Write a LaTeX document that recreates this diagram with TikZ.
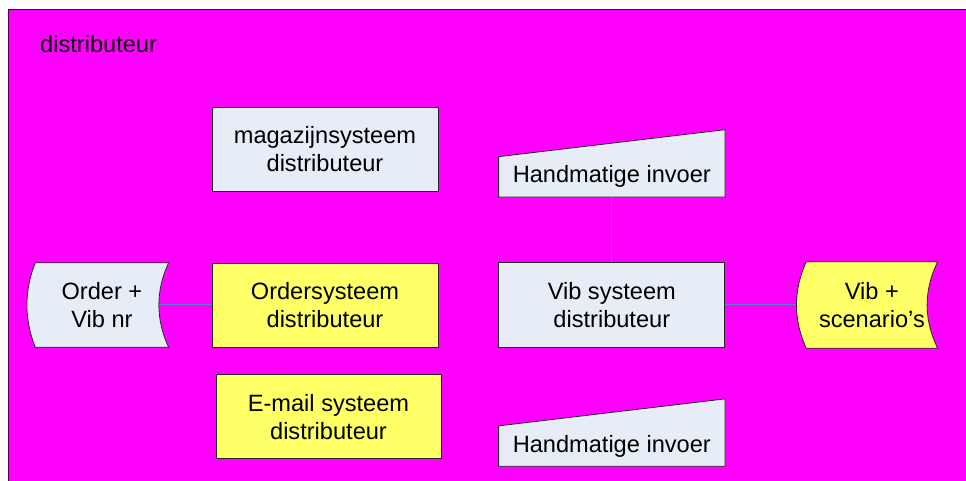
\documentclass[tikz,border=0pt]{standalone}
\usepackage{fontspec}
\setmainfont{Liberation Sans}
\usetikzlibrary{positioning,calc,backgrounds}
\definecolor{sheet}{RGB}{255,0,255}
\definecolor{boxblue}{RGB}{230,237,247}
\definecolor{boxyellow}{RGB}{255,255,102}
\definecolor{linkblue}{RGB}{90,125,205}

\begin{document}
\begin{tikzpicture}[
  x=1pt, y=1pt,
  font=\fontsize{23.6}{28}\selectfont,
  outline/.style={draw=black!85, line width=0.8pt},
  sysbox/.style={outline, minimum width=226pt, minimum height=84pt,
    inner sep=0pt, align=center},
  bluebox/.style={sysbox, fill=boxblue},
  yellowbox/.style={sysbox, fill=boxyellow},
  datatext/.style={minimum width=133pt, minimum height=84pt,
    inner sep=0pt, align=center},
  inputtext/.style={minimum width=226pt, minimum height=40pt, inner sep=0pt},
  link/.style={draw=linkblue, line width=1pt}
]
  \useasboundingbox (0,0) rectangle (966,481);

  \node[anchor=base west, inner sep=0pt] (title) at (40,428) {distributeur};

  \node[yellowbox] (ordsys) at (325,176) {Ordersysteem\\distributeur};
  \node[bluebox, above=71pt of ordsys] (magsys) {magazijnsysteem\\distributeur};
  \node[yellowbox, below=27pt of ordsys, xshift=3.5pt, minimum width=225pt]
        (mailsys) {E-mail systeem\\distributeur};
  \node[datatext, left=43pt of ordsys] (order) {Order +\\Vib nr};

  \node[bluebox, right=60pt of ordsys, minimum height=85pt] (vibsys) {Vib systeem\\distributeur};
  \node[inputtext, above=65pt of vibsys] (handtop) {Handmatige invoer};
  \node[inputtext, below=78pt of vibsys] (handbot) {Handmatige invoer};
  \node[datatext, right=81pt of vibsys, minimum width=131pt, minimum height=86pt]
        (vibscen) {Vib +\\scenario’s};

  \coordinate (order-dent) at ($(order.east)+(-10pt,0)$);
  \coordinate (vibscen-bulge) at ($(vibscen.west)+(-10pt,0)$);

  \draw[link] (order-dent) -- (ordsys.west);
  \draw[link] (handtop.south) -- (vibsys.north);
  \draw[link] (vibsys.east) -- (vibscen-bulge);

  \begin{pgfonlayer}{background}
    \fill[sheet] (8.5,0) rectangle (966,471);
    \draw[draw=black!70!sheet, line width=1pt] (8.5,0) |- (966,471);
    \draw[outline, fill=boxblue] (order.north west) -- (order.north east)
      .. controls +(-13pt,-28pt) and +(-13pt,28pt) .. (order.south east)
      -- (order.south west)
      .. controls +(-11pt,28pt) and +(-11pt,-28pt) .. (order.north west) -- cycle;
    \draw[outline, fill=boxyellow] (vibscen.north west) -- (vibscen.north east)
      .. controls +(-14pt,-29pt) and +(-14pt,29pt) .. (vibscen.south east)
      -- (vibscen.south west)
      .. controls +(-13pt,29pt) and +(-13pt,-29pt) .. (vibscen.north west) -- cycle;
    \foreach \hand in {handtop, handbot}
      \draw[outline, fill=boxblue] (\hand.south west) -- (\hand.south east)
        -- ($(\hand.north east)+(0,27pt)$) -- (\hand.north west) -- cycle;
  \end{pgfonlayer}
\end{tikzpicture}
\end{document}
